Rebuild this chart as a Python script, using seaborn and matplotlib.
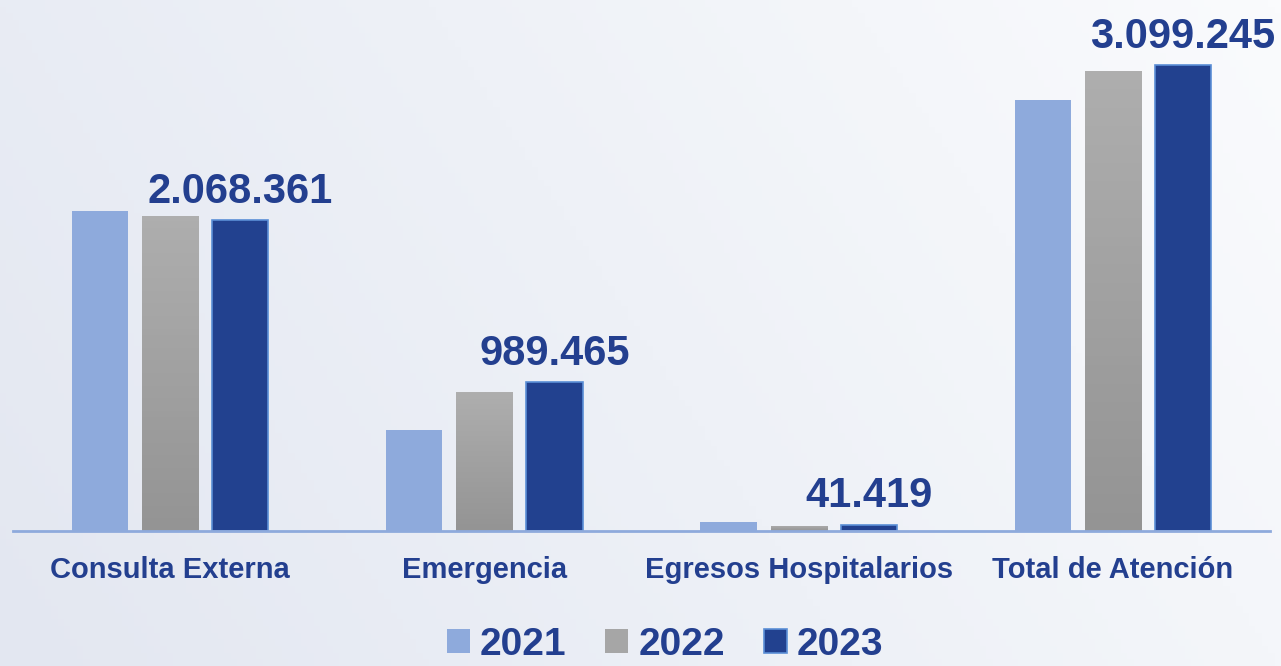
import matplotlib.pyplot as plt
import matplotlib.colors as mcolors
import numpy as np
import pandas as pd
import seaborn as sns

# Datos
categorias = ['Consulta Externa', 'Emergencia', 'Egresos Hospitalarios', 'Total de Atención']
anios = ['2021', '2022', '2023']
valores_2021 = [2131600, 675000, 63000, 2869600]
valores_2022 = [2098000, 923000, 36000, 3057000]
valores_2023 = [2068361, 989465, 41419, 3099245]

colores = ['#8eaadc', '#a6a6a6', '#22418f']
azul_texto = '#233f8f'

df = pd.DataFrame({
    'categoria': categorias * 3,
    'anio': [anios[0]] * 4 + [anios[1]] * 4 + [anios[2]] * 4,
    'valor': valores_2021 + valores_2022 + valores_2023,
})

sns.set_theme(style='white')
plt.rcParams['font.family'] = ['Liberation Sans', 'DejaVu Sans']

fig = plt.figure(figsize=(12.81, 6.66), dpi=100)

# fondo con degradado suave
bg = fig.add_axes([0, 0, 1, 1], zorder=0)
gx = np.linspace(0, 1, 200)
gy = np.linspace(0, 1, 100)
X, Y = np.meshgrid(gx, gy)
grad = 0.75 * X + 0.25 * Y
cmap_bg = mcolors.LinearSegmentedColormap.from_list('bg', ['#e3e7f1', '#eef1f7', '#fafbfd'])
bg.imshow(grad, cmap=cmap_bg, aspect='auto', extent=[0, 1, 0, 1], origin='lower')
bg.axis('off')

ax = fig.add_axes([13 / 1281, 135 / 666, 1257 / 1281, 531 / 666], zorder=1)
ax.patch.set_alpha(0)

sns.barplot(data=df, x='categoria', y='valor', hue='anio', palette=colores,
            width=0.67, gap=0.2, saturation=1, ax=ax, legend=True)

for cont in ax.containers[:2]:
    for bar in cont:
        bar.set_linewidth(0)

# degradado gris en las barras de 2022
cmap_gris = mcolors.LinearSegmentedColormap.from_list('gris', ['#949494', '#aeaeae'])
for bar in ax.containers[1]:
    x0, y0 = bar.get_x(), bar.get_y()
    w, h = bar.get_width(), bar.get_height()
    im = ax.imshow(np.linspace(0, 1, 50).reshape(-1, 1), cmap=cmap_gris, aspect='auto',
                   extent=[x0, x0 + w, y0, y0 + h], origin='lower', zorder=bar.get_zorder())
    im.set_clip_path(bar)

# borde celeste en las barras de 2023
for bar in ax.containers[2]:
    bar.set_edgecolor('#5b8fd6')
    bar.set_linewidth(1.2)

etiquetas = [f'{v:,}'.replace(',', '.') for v in valores_2023]
ax.bar_label(ax.containers[2], labels=etiquetas, padding=6, fontsize=30,
             fontweight='bold', color=azul_texto)

ax.set_ylim(0, 3531700)
ax.set_xlim(-0.5, 3.5)
ax.set_xlabel('')
ax.set_ylabel('')
ax.set_yticks([])
ax.tick_params(axis='x', length=0, pad=18)
for lab in ax.get_xticklabels():
    lab.set_fontsize(21)
    lab.set_fontweight('bold')
    lab.set_color(azul_texto)

for s in ['top', 'right', 'left']:
    ax.spines[s].set_visible(False)
ax.spines['bottom'].set_color('#8eaadc')
ax.spines['bottom'].set_linewidth(2)

handles, labels = ax.get_legend_handles_labels()
ax.get_legend().remove()
leg = fig.legend(handles, labels, loc='center', bbox_to_anchor=(0.519, 0.032),
                 ncol=3, frameon=False, handlelength=0.6, handleheight=0.6,
                 handletextpad=0.25, columnspacing=1.0,
                 prop={'size': 28, 'weight': 'bold'})
for t in leg.get_texts():
    t.set_color(azul_texto)
for h, c in zip(leg.legend_handles, colores):
    h.set_facecolor(c)
    h.set_edgecolor('#5b8fd6' if c == colores[2] else c)
    h.set_linewidth(1.2 if c == colores[2] else 0)

fig.savefig('out.png', dpi=100)
